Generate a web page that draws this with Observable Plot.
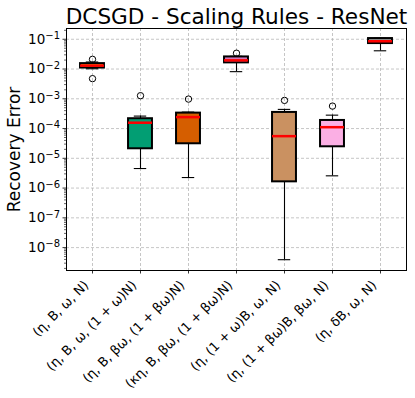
<!DOCTYPE html>
<html><head><meta charset="utf-8">
<script src="https://cdn.jsdelivr.net/npm/d3@7"></script>
<script src="https://cdn.jsdelivr.net/npm/@observablehq/plot@0.6"></script>
<style>body{margin:0;background:#fff} #chart svg{display:block}</style>
</head><body><div id="chart"></div>
<script>
const title = "DCSGD - Scaling Rules - ResNet";
const yLabel = "Recovery Error";
const categories = [
  "(η, B, ω, N)",
  "(η, B, ω, (1 + ω)N)",
  "(η, B, βω, (1 + βω)N)",
  "(κη, B, βω, (1 + βω)N)",
  "(η, (1 + ω)B, ω, N)",
  "(η, (1 + βω)B, βω, N)",
  "(η, δB, ω, N)"
];
const boxColors = ["#DE8F05", "#029E73", "#D55E00", "#CC78BC", "#CA9161", "#FBAFE4", "#949494"];
const whiskerLow  = [0.0102, 4.54e-6, 2.26e-6, 0.00816, 3.92e-9, 2.58e-6, 0.0410];
const q1          = [0.0108, 2.09e-5, 3.08e-5, 0.0161, 1.62e-6, 2.44e-5, 0.0717];
const medians     = [0.0130, 1.57e-4, 2.42e-4, 0.0196, 5.55e-5, 1.11e-4, 0.0857];
const q3          = [0.0152, 2.14e-4, 3.30e-4, 0.0255, 3.48e-4, 1.87e-4, 0.1056];
const whiskerHigh = [0.0172, 2.62e-4, 3.57e-4, 0.0268, 4.40e-4, 2.82e-4, 0.108];
const outlierCat  = [0, 0, 1, 2, 3, 4, 5];
const outlierVal  = [0.0212, 0.00475, 1.27e-3, 9.77e-4, 0.034, 8.83e-4, 5.68e-4];
const yTickExponents = [-8, -7, -6, -5, -4, -3, -2, -1];
const yDomain = [1.7e-9, 0.23];

const rows = categories.map((c, i) => ({
  cat: c, color: boxColors[i], lo: whiskerLow[i], q1: q1[i], med: medians[i], q3: q3[i], hi: whiskerHigh[i]
}));
const outRows = outlierVal.map((v, i) => ({cat: categories[outlierCat[i]], v}));
const majorTicks = yTickExponents.map(e => 10 ** e);
const minorTicks = [];
for (let e = -9; e < 0; e++) for (let m = 2; m < 10; m++) {
  const v = m * 10 ** e;
  if (v >= yDomain[0] && v <= yDomain[1]) minorTicks.push(v);
}

const W = 415, H = 398, mL = 66, mR = 9, mT = 28, mB = 128;
const bw = (W - mL - mR) / categories.length;
const boxInset = (bw - 24.5) / 2;
const capInset = (bw - 13) / 2;

const plot = Plot.plot({
  width: W, height: H, marginTop: mT, marginLeft: mL, marginRight: mR, marginBottom: mB,
  style: {fontFamily: "DejaVu Sans", fontSize: "13px", color: "black", background: "white"},
  x: {type: "band", domain: categories, padding: 0, label: null},
  y: {type: "log", domain: yDomain, label: null},
  color: {type: "identity"},
  marks: [
    Plot.gridY(majorTicks, {stroke: "#b0b0b0", strokeOpacity: 0.9, strokeDasharray: "3,2", strokeWidth: 0.8}),
    Plot.gridX(categories, {stroke: "#b0b0b0", strokeOpacity: 0.9, strokeDasharray: "3,2", strokeWidth: 0.8}),
    Plot.ruleX(rows, {x: "cat", y1: "lo", y2: "q1", stroke: "black", strokeWidth: 1.1}),
    Plot.ruleX(rows, {x: "cat", y1: "q3", y2: "hi", stroke: "black", strokeWidth: 1.1}),
    Plot.tickY(rows, {x: "cat", y: "lo", stroke: "black", strokeWidth: 1.1, insetLeft: capInset, insetRight: capInset}),
    Plot.tickY(rows, {x: "cat", y: "hi", stroke: "black", strokeWidth: 1.1, insetLeft: capInset, insetRight: capInset}),
    Plot.barY(rows, {x: "cat", y1: "q1", y2: "q3", fill: "color", stroke: "black", strokeWidth: 2, insetLeft: boxInset, insetRight: boxInset}),
    Plot.tickY(rows, {x: "cat", y: "med", stroke: "#ff0000", strokeWidth: 2.5, insetLeft: boxInset, insetRight: boxInset}),
    Plot.dot(outRows, {x: "cat", y: "v", r: 3.2, stroke: "black", fill: "none", strokeWidth: 1}),
    Plot.frame({stroke: "black", strokeWidth: 1}),
    Plot.axisY(minorTicks, {tickSize: 2, strokeWidth: 0.6, tickFormat: () => "", label: null}),
    Plot.axisY(majorTicks, {tickSize: 3.5, tickPadding: 3, fontSize: 13.5, strokeWidth: 0.8, label: null,
      tickFormat: d => "10^" + Math.round(Math.log10(d))}),
    Plot.axisX(categories, {tickSize: 3.5, strokeWidth: 0.8, tickFormat: () => "", label: null}),
    Plot.text(categories, {x: d => d, frameAnchor: "bottom", dy: 12.5, dx: -6, rotate: -45, textAnchor: "end", lineAnchor: "middle", fontSize: 13, ariaLabel: "xlabels"}),
    Plot.text([yLabel], {frameAnchor: "left", dx: -51.5, rotate: -90, textAnchor: "middle", lineAnchor: "middle", fontSize: 17}),
    Plot.text([title], {frameAnchor: "top", dy: -11.5, textAnchor: "middle", lineAnchor: "middle", fontSize: 21.6})
  ]
});
document.getElementById("chart").appendChild(plot);

// superscript exponents on y tick labels
d3.select(plot).selectAll("text").each(function() {
  const t = this.textContent;
  const m = /^10\^(-?\d+)$/.exec(t);
  if (!m) return;
  const sel = d3.select(this);
  sel.text("10");
  sel.append("tspan").attr("dy", "-0.45em").attr("font-size", "10px").text(m[1].replace("-", "\u2212"));
});
// italic variables in x labels, like math text
d3.select(plot).selectAll('g[aria-label="xlabels"] text').each(function() {
  const t = this.textContent;
  const sel = d3.select(this);
  sel.text(null);
  for (const part of t.match(/[A-Za-zα-ωΑ-Ω]+|[^A-Za-zα-ωΑ-Ω]+/g)) {
    const ts = sel.append("tspan").text(part);
    if (/[A-Za-zα-ω]/.test(part)) ts.attr("font-style", "italic");
  }
});
</script></body></html>
